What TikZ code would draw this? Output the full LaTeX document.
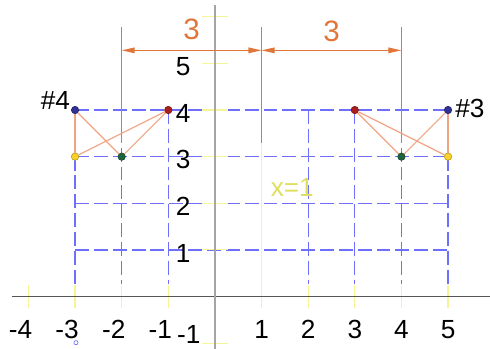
\documentclass[tikz,border=0pt]{standalone}
\usepackage{fontspec}
\setmainfont{Liberation Sans}
\usepackage{tikz}
\usetikzlibrary{arrows.meta,calc,positioning}
\definecolor{dimorange}{RGB}{224,118,58}
\definecolor{lineorange}{RGB}{240,165,130}
\definecolor{gridblue}{RGB}{110,110,255}
\definecolor{tickyellow}{RGB}{245,245,150}
\definecolor{labelyellow}{RGB}{222,222,95}
\definecolor{axisgray}{RGB}{85,85,85}
\definecolor{yaxisgray}{RGB}{165,165,165}
\definecolor{ptblue}{RGB}{50,50,150}
\definecolor{ptred}{RGB}{170,30,30}
\definecolor{ptyellow}{RGB}{250,210,40}
\definecolor{ptgreen}{RGB}{30,100,60}

\begin{document}
\begin{tikzpicture}[
    grid/.style={gridblue, line width=0.8pt, dash pattern=on 8.5pt off 3pt},
    tick/.style={tickyellow, line width=0.7pt},
    bar/.style={lineorange, line width=0.7pt},
    dimline/.style={dimorange, line width=0.7pt},
    lbl/.style={font=\fontsize{16}{18}\selectfont, inner sep=0pt},
    dimlbl/.style={font=\fontsize{18}{20}\selectfont, inner sep=0pt, text=dimorange},
    dot/.style={circle, inner sep=0pt, minimum size=4.5pt, draw=#1!75!black, fill=#1}
  ]
  \useasboundingbox (-4.61,-1.12) rectangle (5.90,6.36);
  % dashed grid
  \foreach \y in {1,...,4} \draw[grid] (-3,\y) -- (5,\y);
  \foreach \x in {-2,-1,2,3,4} \draw[grid] (\x,4) -- (\x,0.27);
  \foreach \x in {-3,5} \draw[grid] (\x,3) -- (\x,0.27);
  % ticks
  \foreach \x in {-4,...,-1,2,3,4,5} \draw[tick] (\x,-0.25) -- (\x,0.25);
  \foreach \y in {-1,1,2,...,6} \draw[tick] (-0.27,\y) -- (0.27,\y);
  \draw[tick] (1,-0.25) -- (1,5.78);
  % axes
  \draw[axisgray, line width=0.6pt] (-4.36,0) -- (5.9,0);
  \draw[yaxisgray, line width=1pt] (0,-1.2) -- (0,6.25);
  \draw[gridblue] (-2.98,-0.99) circle (0.045);
  % axis labels
  \foreach \x in {-4,...,-1} \node[lbl] (xl\x) at (\x-0.17,-0.71) {\x};
  \foreach \x in {1,...,5} \node[lbl] (xl\x) at (\x,-0.71) {\x};
  \foreach \y in {1,...,5} \node[lbl] (yl\y) at (-0.68,\y-0.07) {\y};
  \node[lbl] (ylm) at (-0.56,-0.82) {-1};
  \node[lbl, text=labelyellow] (xeq) at (1.66,2.34) {x=1};
  % dimensions
  \coordinate (e1t) at (-2,5.78); \coordinate (e1b) at (-2,3.3);
  \coordinate (e2t) at (1,5.78);  \coordinate (e2b) at (1,3.3);
  \coordinate (e3t) at (4,5.78);  \coordinate (e3b) at (4,3.3);
  \draw[dimline] (e1t) -- (e1b);
  \draw[dimline] (e2t) -- (e2b);
  \draw[dimline] (e3t) -- (e3b);
  \coordinate (m1) at (-2,5.28);
  \coordinate (m2) at (1,5.28);
  \coordinate (m3) at (4,5.28);
  \draw[dimline, {Triangle[length=2.8mm,width=1.2mm]}-{Triangle[length=2.8mm,width=1.2mm]}] (m1) -- (m2);
  \draw[dimline, {Triangle[length=2.8mm,width=1.2mm]}-{Triangle[length=2.8mm,width=1.2mm]}] (m2) -- (m3);
  \node[dimlbl] (d1) at (-0.5,5.72) {3};
  \node[dimlbl] (d2) at (2.5,5.69) {3};
  % support #4
  \node[dot=ptblue] (a4) at (-3,4) {};
  \node[dot=ptred] (b4) at (-1,4) {};
  \node[dot=ptyellow] (c4) at (-3,3) {};
  \node[dot=ptgreen] (d4) at (-2,3) {};
  \draw[bar] (a4) -- (c4);
  \draw[bar] (a4) -- (d4);
  \draw[bar] (b4) -- (c4);
  \draw[bar] (b4) -- (d4);
  \node[lbl, anchor=east] (h4) at (-3.1,4.21) {\#4};
  % support #3
  \node[dot=ptblue] (a3) at (5,4) {};
  \node[dot=ptred] (b3) at (3,4) {};
  \node[dot=ptyellow] (c3) at (5,3) {};
  \node[dot=ptgreen] (d3) at (4,3) {};
  \draw[bar] (a3) -- (c3);
  \draw[bar] (a3) -- (d3);
  \draw[bar] (b3) -- (c3);
  \draw[bar] (b3) -- (d3);
  \node[lbl, anchor=west] (h3) at (5.15,4.04) {\#3};
\end{tikzpicture}
\end{document}
